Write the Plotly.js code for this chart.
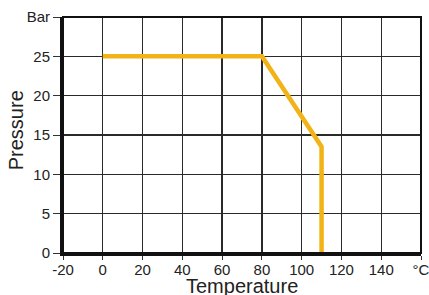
<!DOCTYPE html>
<html><head><meta charset="utf-8">
<script src="https://cdn.plot.ly/plotly-3.0.1.min.js"></script>
<style>html,body{margin:0;padding:0;background:#fff;}#c{width:429px;height:295px;}</style>
</head><body><div id="c"></div>
<script>
const temperature = [0, 80, 110, 110];
const pressure = [25, 25, 13.5, 0];
const xTickVals = [-20, 0, 20, 40, 60, 80, 100, 120, 140, 160];
const xTickText = ['-20', '0', '20', '40', '60', '80', '100', '120', '140', '°C'];
const yTickVals = [0, 5, 10, 15, 20, 25, 30];
const yTickText = ['0', '5', '10', '15', '20', '25', 'Bar'];
const xTitle = 'Temperature';
const yTitle = 'Pressure';

const fam = 'Liberation Sans, Arial, sans-serif';
const font = {family: fam, size: 15, color: '#222'};
const titleFont = {family: fam, size: 20, color: '#222'};
Plotly.newPlot('c', [{
  x: temperature, y: pressure, mode: 'lines', type: 'scatter',
  line: {color: '#F2B316', width: 4.5}, hoverinfo: 'none'
}], {
  width: 429, height: 295,
  margin: {l: 63, r: 8, t: 17, b: 42, pad: 0},
  paper_bgcolor: '#fff', plot_bgcolor: '#fff',
  showlegend: false,
  font: font,
  xaxis: {
    range: [-20, 160], tickvals: xTickVals, ticktext: xTickText,
    showgrid: true, gridcolor: '#2a2a2a', gridwidth: 1.4,
    zeroline: false, showline: true, linecolor: '#111', linewidth: 3,
    ticks: 'outside', ticklen: 4, tickcolor: '#333', tickwidth: 1,
    ticklabelstandoff: -3,
    tickfont: font, ticklabeloverflow: 'allow'
  },
  yaxis: {
    range: [0, 30], tickvals: yTickVals, ticktext: yTickText,
    showgrid: true, gridcolor: '#2a2a2a', gridwidth: 1.4,
    zeroline: false, showline: true, linecolor: '#111', linewidth: 3,
    ticks: 'outside', ticklen: 7, tickcolor: '#333', tickwidth: 1,
    tickfont: font, ticklabeloverflow: 'allow'
  },
  annotations: [
    {text: xTitle, xref: 'paper', yref: 'paper', x: 0.5, y: -0.14,
     xanchor: 'center', yanchor: 'middle', showarrow: false, font: titleFont},
    {text: yTitle, xref: 'paper', yref: 'paper', x: -0.132, y: 0.519, textangle: -90,
     xanchor: 'center', yanchor: 'middle', showarrow: false, font: titleFont}
  ],
  shapes: [{type: 'rect', xref: 'paper', yref: 'paper', x0: 0, x1: 1, y0: 0, y1: 1,
    line: {color: '#111', width: 2}}]
}, {staticPlot: true});
</script></body></html>
